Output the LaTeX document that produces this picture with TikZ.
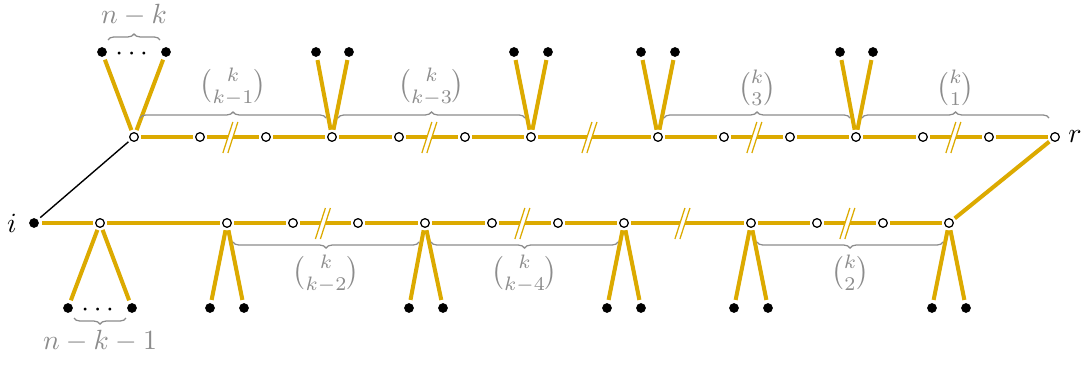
\documentclass[tikz,border=0pt]{standalone}
\usepackage{amsmath}
\usetikzlibrary{decorations.pathreplacing,calc}
\definecolor{gold}{RGB}{220,170,0}
\definecolor{lblgray}{RGB}{140,140,140}
\newcommand\slashmark[2]{%
  \coordinate (sm) at ($(#1)!0.46!(#2)$);
  \fill[white] ($(sm)+(-7.5,16)$) -- ($(sm)+(2.5,-15)$) -- ($(sm)+(7.5,-15)$) -- ($(sm)+(-2.5,16)$) -- cycle;
  \draw[gold,line width=0.45pt] ($(sm)+(-7.5,16)$) -- ($(sm)+(2.5,-15)$) ($(sm)+(-2.5,16)$) -- ($(sm)+(7.5,-15)$);
}
\begin{document}
\begin{tikzpicture}[x=0.36pt,y=-0.36pt,
  wn/.style={circle,draw=black,fill=white,line width=0.45pt,inner sep=0pt,minimum size=3.1pt,outer sep=1.1pt},
  bn/.style={circle,fill=black,inner sep=0pt,minimum size=3.5pt,outer sep=1.2pt},
  ge/.style={draw=gold,line width=1.45pt},
  brc/.style={draw=lblgray,line width=0.45pt,decorate,decoration={brace,amplitude=2.2pt}},
  mbrc/.style={brc,decoration={brace,mirror,amplitude=2.2pt}},
  lbl/.style={text=lblgray}]
\useasboundingbox (0,0) rectangle (1081,365);
% top row
\foreach \n/\x in {t1/134,t2/200,t3/266,t4/332,t5/399,t6/465,t7/531,t8/658,t9/724,t10/790,t11/856,t12/923,t13/989,r/1055}
  \node[wn] (\n) at (\x,137) {};
% bottom row
\node[bn] (i) at (34,223) {};
\foreach \n/\x in {b1/100,b2/227,b3/293,b4/358,b5/425,b6/492,b7/558,b8/624,b9/751,b10/817,b11/883,b12/949}
  \node[wn] (\n) at (\x,223) {};
% top leaves
\foreach \n/\x in {la1/102,la2/166,lb1/316,lb2/349,lc1/514,lc2/548,ld1/641,ld2/675,le1/840,le2/873}
  \node[bn] (\n) at (\x,52) {};
% bottom leaves
\foreach \n/\x in {ma1/68,ma2/132,mb1/210,mb2/244,mc1/409,mc2/443,md1/607,md2/641,me1/734,me2/768,mf1/932,mf2/966}
  \node[bn] (\n) at (\x,308) {};
% main edges
\foreach \a/\b in {t1/t2,t2/t3,t3/t4,t4/t5,t5/t6,t6/t7,t7/t8,t8/t9,t9/t10,t10/t11,t11/t12,t12/t13,t13/r,
  i/b1,b1/b2,b2/b3,b3/b4,b4/b5,b5/b6,b6/b7,b7/b8,b8/b9,b9/b10,b10/b11,b11/b12,b12/r}
  \draw[ge] (\a) -- (\b);
\draw[line width=0.5pt] (i) -- (t1);
% leaf edges
\foreach \p/\l in {t1/la1,t1/la2,t4/lb1,t4/lb2,t7/lc1,t7/lc2,t8/ld1,t8/ld2,t11/le1,t11/le2,
  b1/ma1,b1/ma2,b2/mb1,b2/mb2,b5/mc1,b5/mc2,b8/md1,b8/md2,b9/me1,b9/me2,b12/mf1,b12/mf2}
  \draw[ge] (\p) -- (\l);
% break marks
\slashmark{t2}{t3}
\slashmark{t5}{t6}
\slashmark{t7}{t8}
\slashmark{t9}{t10}
\slashmark{t12}{t13}
\slashmark{b3}{b4}
\slashmark{b6}{b7}
\slashmark{b8}{b9}
\slashmark{b10}{b11}
% dots
\node[yshift=-0.9pt] (dta) at ($(la1)!0.5!(la2)$) {$\cdots$};
\node[yshift=-0.9pt] (dtb) at ($(ma1)!0.5!(ma2)$) {$\cdots$};
% braces
\draw[brc] ([shift={(6,-12)}]la1.center) -- ([shift={(-6,-12)}]la2.center) node[lbl,midway,above=1.5pt] (nk) {$n-k$};
\draw[mbrc] ([shift={(6,10)}]ma1.center) -- ([shift={(-6,10)}]ma2.center) node[lbl,midway,below=1pt] (nk1) {$n-k-1$};
\draw[brc] ([shift={(6,-19)}]t1.center) -- ([shift={(-6,-19)}]t4.center) node[lbl,midway,above=1pt] (c1) {$\tbinom{k}{k-1}$};
\draw[brc] ([shift={(6,-19)}]t4.center) -- ([shift={(-6,-19)}]t7.center) node[lbl,midway,above=1pt] (c2) {$\tbinom{k}{k-3}$};
\draw[brc] ([shift={(6,-19)}]t8.center) -- ([shift={(-6,-19)}]t11.center) node[lbl,midway,above=1pt] (c3) {$\tbinom{k}{3}$};
\draw[brc] ([shift={(6,-19)}]t11.center) -- ([shift={(-6,-19)}]r.center) node[lbl,midway,above=1pt] (c4) {$\tbinom{k}{1}$};
\draw[mbrc] ([shift={(6,19)}]b2.center) -- ([shift={(-6,19)}]b5.center) node[lbl,midway,below=1pt] (d1) {$\tbinom{k}{k-2}$};
\draw[mbrc] ([shift={(6,19)}]b5.center) -- ([shift={(-6,19)}]b8.center) node[lbl,midway,below=1pt] (d2) {$\tbinom{k}{k-4}$};
\draw[mbrc] ([shift={(6,19)}]b9.center) -- ([shift={(-6,19)}]b12.center) node[lbl,midway,below=1pt] (d3) {$\tbinom{k}{2}$};
% end labels
\node (il) at (12,223) {$i$};
\node (rl) at (1075,137) {$r$};
\end{tikzpicture}
\end{document}
